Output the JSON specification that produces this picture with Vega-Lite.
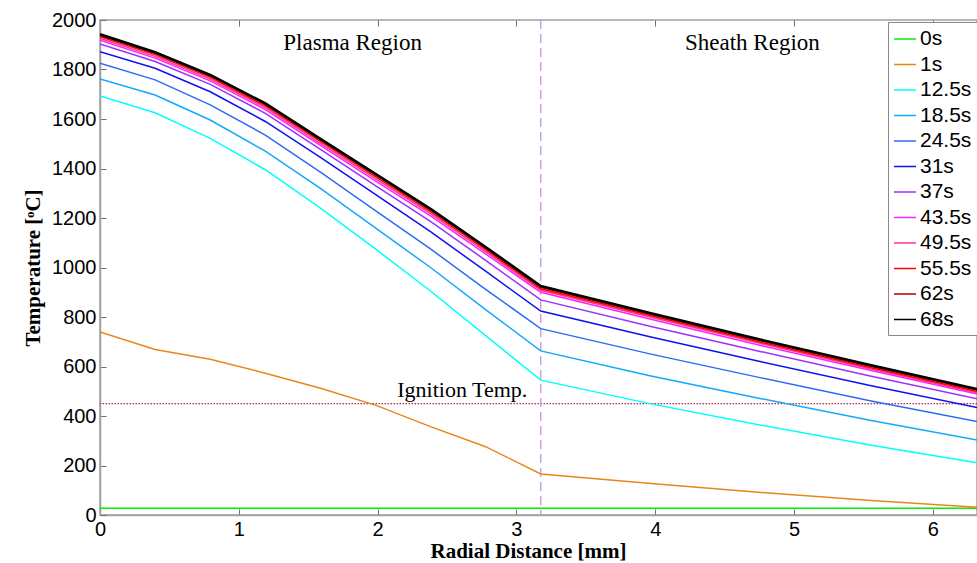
{
  "$schema": "https://vega.github.io/schema/vega-lite/v6.json",
  "width": 877,
  "height": 495,
  "autosize": {"type": "none"},
  "padding": {"left": 100, "top": 20, "right": 0, "bottom": 48},
  "background": "white",
  "config": {
    "view": {"stroke": "#a0a0a0", "strokeWidth": 1.5},
    "axis": {
      "domainColor": "#a0a0a0",
      "domainWidth": 1.5,
      "tickColor": "#707070",
      "tickSize": -6,
      "tickWidth": 1,
      "grid": false,
      "labelFlush": false,
      "labelFont": "Liberation Sans",
      "labelFontSize": 20,
      "labelColor": "#000000",
      "titleFont": "Liberation Serif",
      "titleFontWeight": "bold",
      "titleFontSize": 21,
      "titleColor": "#000000"
    },
    "legend": {
      "labelFont": "Liberation Sans",
      "labelFontSize": 21,
      "labelColor": "#000000"
    }
  },
  "datasets": {
    "curves": [
      {"s":"0s","x":0,"t":27},{"s":"0s","x":6.35,"t":27},
      {"s":"1s","x":0,"t":740},{"s":"1s","x":0.397,"t":669},{"s":"1s","x":0.794,"t":629},{"s":"1s","x":1.191,"t":573},{"s":"1s","x":1.588,"t":512},{"s":"1s","x":1.984,"t":444},{"s":"1s","x":2.381,"t":357},{"s":"1s","x":2.778,"t":276},{"s":"1s","x":3.175,"t":166},{"s":"1s","x":3.969,"t":127},{"s":"1s","x":4.763,"t":91},{"s":"1s","x":5.556,"t":59},{"s":"1s","x":6.35,"t":30},
      {"s":"12.5s","x":0,"t":1693},{"s":"12.5s","x":0.397,"t":1625},{"s":"12.5s","x":0.794,"t":1522},{"s":"12.5s","x":1.191,"t":1395},{"s":"12.5s","x":1.588,"t":1240},{"s":"12.5s","x":1.984,"t":1075},{"s":"12.5s","x":2.381,"t":905},{"s":"12.5s","x":2.778,"t":725},{"s":"12.5s","x":3.175,"t":545},{"s":"12.5s","x":3.969,"t":449},{"s":"12.5s","x":4.763,"t":363},{"s":"12.5s","x":5.556,"t":282},{"s":"12.5s","x":6.35,"t":208},
      {"s":"18.5s","x":0,"t":1762},{"s":"18.5s","x":0.397,"t":1697},{"s":"18.5s","x":0.794,"t":1596},{"s":"18.5s","x":1.191,"t":1470},{"s":"18.5s","x":1.588,"t":1320},{"s":"18.5s","x":1.984,"t":1160},{"s":"18.5s","x":2.381,"t":1000},{"s":"18.5s","x":2.778,"t":830},{"s":"18.5s","x":3.175,"t":663},{"s":"18.5s","x":3.969,"t":562},{"s":"18.5s","x":4.763,"t":470},{"s":"18.5s","x":5.556,"t":382},{"s":"18.5s","x":6.35,"t":300},
      {"s":"24.5s","x":0,"t":1825},{"s":"24.5s","x":0.397,"t":1758},{"s":"24.5s","x":0.794,"t":1657},{"s":"24.5s","x":1.191,"t":1535},{"s":"24.5s","x":1.588,"t":1385},{"s":"24.5s","x":1.984,"t":1230},{"s":"24.5s","x":2.381,"t":1075},{"s":"24.5s","x":2.778,"t":912},{"s":"24.5s","x":3.175,"t":753},{"s":"24.5s","x":3.969,"t":650},{"s":"24.5s","x":4.763,"t":554},{"s":"24.5s","x":5.556,"t":461},{"s":"24.5s","x":6.35,"t":374},
      {"s":"31s","x":0,"t":1872},{"s":"31s","x":0.397,"t":1805},{"s":"31s","x":0.794,"t":1710},{"s":"31s","x":1.191,"t":1590},{"s":"31s","x":1.588,"t":1445},{"s":"31s","x":1.984,"t":1295},{"s":"31s","x":2.381,"t":1145},{"s":"31s","x":2.778,"t":985},{"s":"31s","x":3.175,"t":824},{"s":"31s","x":3.969,"t":719},{"s":"31s","x":4.763,"t":619},{"s":"31s","x":5.556,"t":522},{"s":"31s","x":6.35,"t":431},
      {"s":"37s","x":0,"t":1903},{"s":"37s","x":0.397,"t":1832},{"s":"37s","x":0.794,"t":1740},{"s":"37s","x":1.191,"t":1623},{"s":"37s","x":1.588,"t":1477},{"s":"37s","x":1.984,"t":1331},{"s":"37s","x":2.381,"t":1186},{"s":"37s","x":2.778,"t":1029},{"s":"37s","x":3.175,"t":869},{"s":"37s","x":3.969,"t":762},{"s":"37s","x":4.763,"t":660},{"s":"37s","x":5.556,"t":561},{"s":"37s","x":6.35,"t":466},
      {"s":"43.5s","x":0,"t":1918},{"s":"43.5s","x":0.397,"t":1846},{"s":"43.5s","x":0.794,"t":1754},{"s":"43.5s","x":1.191,"t":1638},{"s":"43.5s","x":1.588,"t":1493},{"s":"43.5s","x":1.984,"t":1350},{"s":"43.5s","x":2.381,"t":1209},{"s":"43.5s","x":2.778,"t":1055},{"s":"43.5s","x":3.175,"t":900},{"s":"43.5s","x":3.969,"t":791},{"s":"43.5s","x":4.763,"t":685},{"s":"43.5s","x":5.556,"t":584},{"s":"43.5s","x":6.35,"t":485},
      {"s":"49.5s","x":0,"t":1925},{"s":"49.5s","x":0.397,"t":1853},{"s":"49.5s","x":0.794,"t":1761},{"s":"49.5s","x":1.191,"t":1646},{"s":"49.5s","x":1.588,"t":1502},{"s":"49.5s","x":1.984,"t":1359},{"s":"49.5s","x":2.381,"t":1218},{"s":"49.5s","x":2.778,"t":1064},{"s":"49.5s","x":3.175,"t":908},{"s":"49.5s","x":3.969,"t":799},{"s":"49.5s","x":4.763,"t":693},{"s":"49.5s","x":5.556,"t":590},{"s":"49.5s","x":6.35,"t":490},
      {"s":"55.5s","x":0,"t":1932},{"s":"55.5s","x":0.397,"t":1860},{"s":"55.5s","x":0.794,"t":1768},{"s":"55.5s","x":1.191,"t":1653},{"s":"55.5s","x":1.588,"t":1510},{"s":"55.5s","x":1.984,"t":1367},{"s":"55.5s","x":2.381,"t":1226},{"s":"55.5s","x":2.778,"t":1072},{"s":"55.5s","x":3.175,"t":914},{"s":"55.5s","x":3.969,"t":805},{"s":"55.5s","x":4.763,"t":698},{"s":"55.5s","x":5.556,"t":595},{"s":"55.5s","x":6.35,"t":495},
      {"s":"62s","x":0,"t":1938},{"s":"62s","x":0.397,"t":1866},{"s":"62s","x":0.794,"t":1774},{"s":"62s","x":1.191,"t":1659},{"s":"62s","x":1.588,"t":1516},{"s":"62s","x":1.984,"t":1374},{"s":"62s","x":2.381,"t":1233},{"s":"62s","x":2.778,"t":1078},{"s":"62s","x":3.175,"t":920},{"s":"62s","x":3.969,"t":810},{"s":"62s","x":4.763,"t":703},{"s":"62s","x":5.556,"t":600},{"s":"62s","x":6.35,"t":500},
      {"s":"68s","x":0,"t":1942},{"s":"68s","x":0.397,"t":1870},{"s":"68s","x":0.794,"t":1778},{"s":"68s","x":1.191,"t":1663},{"s":"68s","x":1.588,"t":1520},{"s":"68s","x":1.984,"t":1378},{"s":"68s","x":2.381,"t":1237},{"s":"68s","x":2.778,"t":1083},{"s":"68s","x":3.175,"t":925},{"s":"68s","x":3.969,"t":815},{"s":"68s","x":4.763,"t":708},{"s":"68s","x":5.556,"t":605},{"s":"68s","x":6.35,"t":505}
    ]
  },
  "resolve": {"axis": {"x": "independent"}},
  "layer": [
    {
      "data": {"values": [{}]},
      "mark": {"type": "rule", "color": "#b02848", "strokeWidth": 1.3, "strokeDash": [1.5, 1.5]},
      "encoding": {
        "y": {"datum": 450, "type": "quantitative", "scale": {"domain": [0, 2000]}, "title": "Temperature [ᵒC]"}
      }
    },
    {
      "data": {"values": [{}]},
      "mark": {"type": "rule", "color": "#c9a3da", "strokeWidth": 1.5, "strokeDash": [9, 5]},
      "encoding": {
        "x": {"datum": 3.175, "type": "quantitative", "scale": {"domain": [0, 6.318]},
              "axis": {"orient": "top", "labels": false, "title": null, "domain": false, "values": [0,1,2,3,4,5,6]}}
      }
    },
    {
      "data": {"name": "curves"},
      "mark": {"type": "line", "clip": true},
      "encoding": {
        "x": {"field": "x", "type": "quantitative", "scale": {"domain": [0, 6.318], "nice": false, "zero": false},
              "axis": {"values": [0,1,2,3,4,5,6], "format": "d", "title": "Radial Distance [mm]", "titlePadding": 1, "titleX": 428, "labelPadding": 10}},
        "y": {"field": "t", "type": "quantitative", "scale": {"domain": [0, 2000], "nice": false},
              "axis": {"values": [0,200,400,600,800,1000,1200,1400,1600,1800,2000], "format": "d", "title": "Temperature [ᵒC]", "titlePadding": 8, "labelPadding": 10}},
        "color": {
          "field": "s", "type": "nominal",
          "scale": {
            "domain": ["0s","1s","12.5s","18.5s","24.5s","31s","37s","43.5s","49.5s","55.5s","62s","68s"],
            "range": ["#00f000","#e8861a","#00ffff","#12a8ff","#2b6cf5","#1010f0","#9b30ff","#ff22ff","#ff3399","#ff0000","#b00000","#000000"]
          },
          "legend": {
            "title": null, "orient": "none", "legendX": 788, "legendY": 2,
            "symbolType": "stroke", "symbolSize": 484, "symbolStrokeWidth": 1.5,
            "rowPadding": 3.5, "padding": 5, "labelOffset": 3,
            "strokeColor": "#888888", "fillColor": "#ffffff"
          }
        },
        "strokeWidth": {"condition": {"test": "datum.s === '68s'", "value": 2.6}, "value": 1.5}
      }
    },
    {
      "data": {"values": [{}]},
      "mark": {"type": "text", "font": "Liberation Serif", "fontSize": 23, "align": "center", "baseline": "alphabetic", "color": "#000000"},
      "encoding": {"x": {"datum": 1.82, "type": "quantitative", "axis": null}, "y": {"datum": 1879, "type": "quantitative", "title": "Temperature [ᵒC]"}, "text": {"value": "Plasma Region"}}
    },
    {
      "data": {"values": [{}]},
      "mark": {"type": "text", "font": "Liberation Serif", "fontSize": 23, "align": "center", "baseline": "alphabetic", "color": "#000000"},
      "encoding": {"x": {"datum": 4.70, "type": "quantitative", "axis": null}, "y": {"datum": 1879, "type": "quantitative", "title": "Temperature [ᵒC]"}, "text": {"value": "Sheath Region"}}
    },
    {
      "data": {"values": [{}]},
      "mark": {"type": "text", "font": "Liberation Serif", "fontSize": 22, "align": "center", "baseline": "alphabetic", "color": "#000000"},
      "encoding": {"x": {"datum": 2.61, "type": "quantitative", "axis": null}, "y": {"datum": 477, "type": "quantitative", "title": "Temperature [ᵒC]"}, "text": {"value": "Ignition Temp."}}
    }
  ]
}
